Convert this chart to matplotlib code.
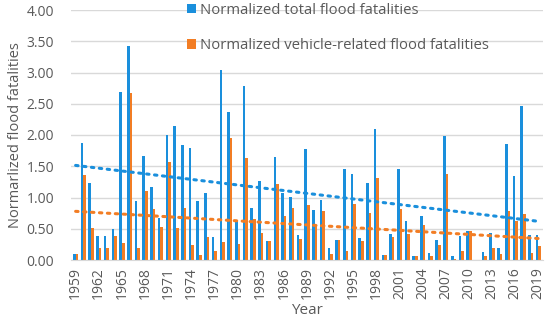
import numpy as np
import matplotlib
matplotlib.use('Agg')
import matplotlib.pyplot as plt

plt.rcParams['font.family'] = ['Open Sans', 'DejaVu Sans']

years = list(range(1959, 2020))

total = [0.10, 1.88, 1.23, 0.39, 0.39, 0.49, 2.69, 3.43, 0.94, 1.66,
         1.17, 0.68, 2.00, 2.14, 1.84, 1.79, 0.95, 1.08, 0.37, 3.04,
         2.37, 0.63, 2.78, 0.84, 1.26, 0.30, 1.65, 1.07, 1.01, 0.40,
         1.78, 0.80, 0.96, 0.20, 0.32, 1.46, 1.38, 0.35, 1.23, 2.09,
         0.08, 0.41, 1.46, 0.63, 0.07, 0.70, 0.11, 0.32, 1.99, 0.06,
         0.38, 0.46, 0.00, 0.13, 0.43, 0.20, 1.85, 1.35, 2.47, 0.40,
         0.40]

vehicle = [0.10, 1.36, 0.51, 0.20, 0.19, 0.39, 0.28, 2.67, 0.19, 1.11,
           0.82, 0.53, 1.57, 0.51, 0.83, 0.24, 0.08, 0.37, 0.14, 0.29,
           1.95, 0.26, 1.63, 0.65, 0.43, 0.30, 1.22, 0.71, 0.83, 0.34,
           0.88, 0.56, 0.79, 0.10, 0.32, 0.15, 0.90, 0.30, 0.76, 1.31,
           0.08, 0.37, 0.81, 0.42, 0.07, 0.56, 0.06, 0.24, 1.37, 0.02,
           0.15, 0.46, 0.00, 0.06, 0.20, 0.10, 0.79, 0.63, 0.73, 0.12,
           0.23]

blue = '#1a8fdc'
orange = '#f27d24'
grey = '#595959'

x = np.arange(len(years))
w = 0.34

fig = plt.figure(figsize=(5.5, 3.34), dpi=100)
ax = fig.add_axes([71 / 550, 74 / 334, 472 / 550, 250 / 334])

ax.bar(x - w / 2, total, width=w, color=blue, label='Normalized total flood fatalities', zorder=2)
ax.bar(x + w / 2, vehicle, width=w, color=orange, label='Normalized vehicle-related flood fatalities', zorder=2)

# linear trend lines, like the excel ones
for vals, c in [(total, blue), (vehicle, orange)]:
    k, b = np.polyfit(x, vals, 1)
    ax.plot(x, k * x + b, color=c, lw=2.2, linestyle=(0, (0.8, 1.8)),
            dash_capstyle='round', zorder=3)

ax.set_xlim(-0.6, len(years) - 0.4)
ax.set_ylim(0, 4)
ax.set_yticks(np.arange(0, 4.01, 0.5))
ax.set_yticklabels(['%.2f' % v for v in np.arange(0, 4.01, 0.5)])
ax.set_xticks(x[::3])
ax.set_xticklabels([str(y) for y in years[::3]], rotation=90)

ax.grid(axis='y', color='#d9d9d9', lw=1, zorder=0)
for s in ['top', 'right', 'left']:
    ax.spines[s].set_visible(False)
ax.spines['bottom'].set_color('#d9d9d9')
ax.tick_params(axis='both', length=0, colors=grey, labelsize=10)
ax.tick_params(axis='y', pad=12)
ax.tick_params(axis='x', pad=5)

ax.set_xlabel('Year', fontsize=11, color=grey, labelpad=3)
ax.set_ylabel('Normarlized flood fatalities', fontsize=10.5, color=grey, labelpad=3)

leg = ax.legend(loc='upper left', bbox_to_anchor=(0.218, 1.083), frameon=False,
                fontsize=10.7, labelspacing=1.4, handlelength=0.62, handleheight=0.62,
                handletextpad=0.27)
for t in leg.get_texts():
    t.set_color(grey)

fig.savefig('out.png', dpi=100)
